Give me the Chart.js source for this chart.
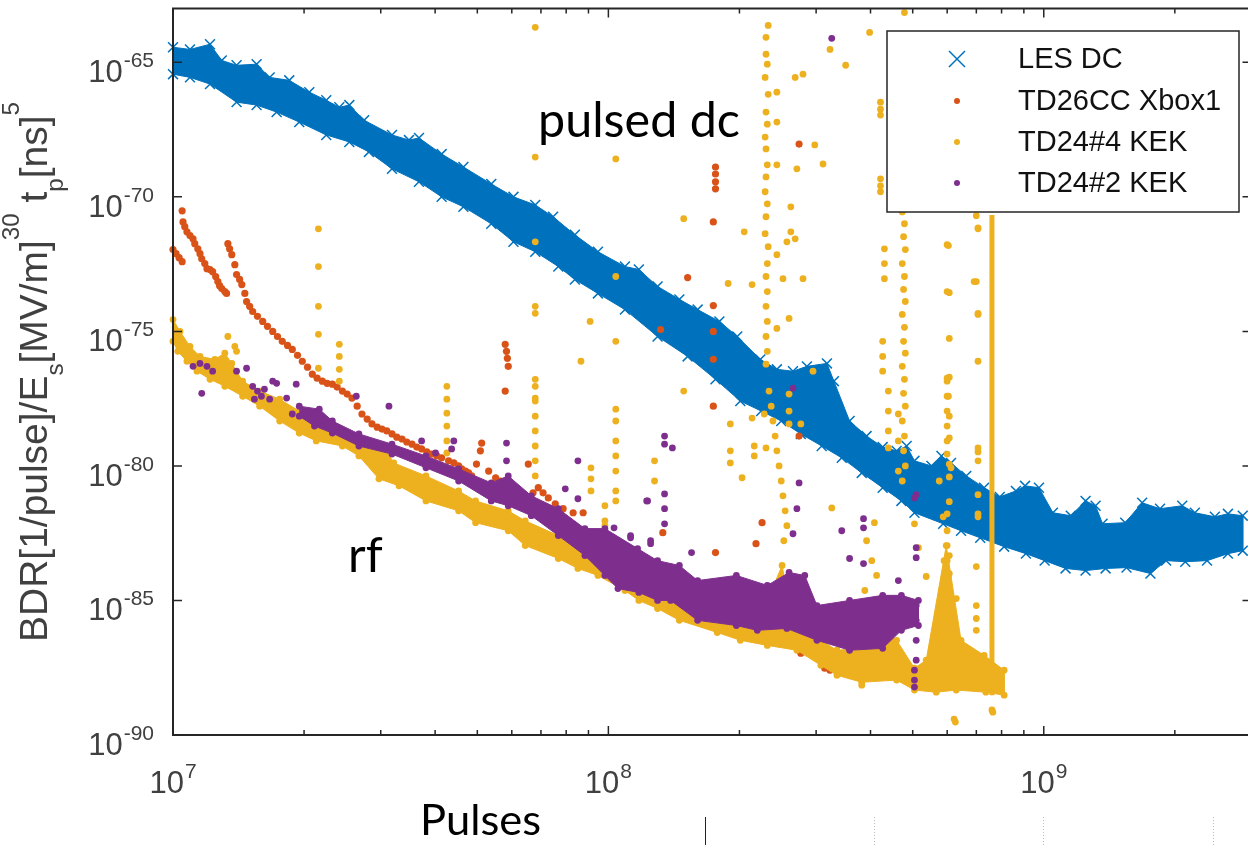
<!DOCTYPE html>
<html>
<head>
<meta charset="utf-8">
<script src="https://cdn.jsdelivr.net/npm/chart.js"></script>
<style>
    html, body { margin: 0; padding: 0; background: #fff; width: 1248px; height: 845px; overflow: hidden; }
    #wrap { width: 1260px; height: 845px; }
</style>
</head>
<body>
<div id="wrap"><canvas id="myChart" width="1260" height="845"></canvas></div>
<script>
// every pair is [log10(pulses), log10(BDR)]

// LES DC: dense band, upper edge left->right, lower edge right->left
var lesDcUpper = [[7.000,-64.44],[7.039,-64.52],[7.085,-64.33],[7.112,-64.93],[7.146,-65.11],[7.192,-65.07],[7.222,-65.56],[7.267,-65.67],[7.313,-66.11],[7.352,-66.41],[7.382,-66.67],[7.405,-66.59],[7.439,-67.15],[7.503,-67.70],[7.542,-67.89],[7.565,-67.81],[7.617,-68.41],[7.667,-68.89],[7.731,-69.52],[7.782,-70.00],[7.832,-70.30],[7.873,-70.74],[7.923,-71.41],[7.976,-72.04],[8.038,-72.59],[8.070,-72.70],[8.113,-73.33],[8.163,-73.81],[8.205,-74.19],[8.255,-74.63],[8.296,-75.19],[8.349,-76.04],[8.387,-76.41],[8.424,-76.48],[8.456,-76.30],[8.502,-76.19],[8.518,-76.85],[8.554,-78.33],[8.593,-78.89],[8.630,-79.30],[8.662,-79.44],[8.685,-79.26],[8.703,-79.81],[8.742,-80.00],[8.765,-79.63],[8.787,-79.89],[8.822,-80.37],[8.863,-80.81],[8.899,-81.15],[8.936,-80.93],[8.957,-80.74],[8.989,-80.81],[9.021,-81.74],[9.062,-81.85],[9.096,-81.30],[9.119,-81.48],[9.135,-82.15],[9.187,-82.11],[9.226,-81.37],[9.267,-81.59],[9.318,-81.48],[9.347,-81.74],[9.393,-81.89],[9.423,-81.78],[9.457,-81.85]];
var lesDcLower = [[9.457,-83.15],[9.423,-83.26],[9.375,-83.52],[9.325,-83.56],[9.281,-83.52],[9.245,-84.00],[9.190,-83.78],[9.142,-83.81],[9.096,-83.89],[9.050,-83.81],[9.002,-83.52],[8.959,-83.26],[8.909,-83.00],[8.854,-82.67],[8.810,-82.41],[8.769,-82.15],[8.703,-81.74],[8.673,-81.30],[8.630,-80.81],[8.582,-80.26],[8.536,-79.70],[8.490,-79.26],[8.442,-78.81],[8.397,-78.33],[8.351,-77.96],[8.303,-77.59],[8.246,-76.78],[8.182,-75.93],[8.113,-75.19],[8.038,-74.19],[7.976,-73.59],[7.923,-73.07],[7.885,-72.59],[7.832,-72.04],[7.782,-71.67],[7.731,-71.00],[7.667,-70.37],[7.617,-70.00],[7.565,-69.44],[7.503,-68.96],[7.450,-68.33],[7.405,-67.96],[7.352,-67.70],[7.290,-67.22],[7.238,-66.85],[7.192,-66.59],[7.146,-66.48],[7.085,-65.81],[7.039,-65.56],[7.000,-65.44]];

// TD26CC Xbox1
var xbox1Points = [[7.000,-71.96],[7.007,-72.11],[7.014,-72.26],[7.021,-72.41],
    [7.021,-70.52],[7.023,-70.93],[7.027,-71.11],[7.032,-71.30],[7.039,-71.44],[7.046,-71.56],[7.050,-71.74],[7.057,-71.93],[7.062,-72.11],[7.066,-72.30],[7.073,-72.48],[7.078,-72.67],[7.085,-72.70],[7.091,-72.78],[7.098,-72.96],[7.103,-73.15],[7.107,-73.30],[7.112,-73.41],[7.119,-73.52],[7.123,-73.59],
    [7.126,-71.74],[7.130,-71.93],[7.135,-72.15],[7.142,-72.52],[7.146,-72.89],[7.153,-73.07],[7.158,-73.26],[7.165,-73.59],[7.169,-73.89],[7.176,-74.07],[7.183,-74.26],[7.194,-74.44],[7.206,-74.63],[7.217,-74.81],[7.229,-75.00],[7.240,-75.19],[7.251,-75.37],[7.263,-75.52],[7.274,-75.67],[7.286,-75.89],[7.297,-76.11],[7.309,-76.33],[7.320,-76.59],[7.331,-76.74],[7.343,-76.85],[7.354,-76.93],[7.366,-76.96],[7.377,-77.07],[7.389,-77.22],[7.400,-77.33],[7.411,-77.48],[7.423,-77.78],[7.434,-78.07],[7.446,-78.26],[7.457,-78.44],[7.469,-78.56],[7.480,-78.63],[7.491,-78.70],[7.503,-78.81],[7.514,-78.93],[7.526,-79.00],[7.537,-79.11],[7.549,-79.19],[7.560,-79.30],[7.571,-79.37],[7.583,-79.48],[7.594,-79.56],[7.606,-79.63],[7.617,-79.70],[7.633,-79.81],[7.645,-79.89],[7.656,-80.00],[7.663,-80.11],[7.672,-80.19],[7.679,-80.26],[7.686,-80.37],[7.697,-79.93],[7.706,-79.44],[7.709,-79.15],[7.725,-80.19],[7.741,-80.44],[7.752,-80.56],[7.763,-80.67],[7.775,-81.04],[7.786,-80.85],[7.793,-80.93],[7.805,-81.07],[7.816,-81.19],[7.827,-81.00],[7.839,-80.81],[7.850,-81.00],[7.862,-81.19],[7.878,-81.41],[7.896,-81.59],[7.919,-81.74],[7.942,-81.74],[7.976,-82.78],[7.816,-79.93],
    [7.763,-75.48],[7.766,-75.74],[7.768,-76.00],[7.770,-76.30],[7.763,-77.22],
    [8.246,-68.89],[8.246,-69.15],[8.246,-69.44],[8.246,-69.70],[8.241,-70.93],[8.438,-68.04],[8.182,-73.00],[8.241,-74.04],[8.241,-75.00],[8.120,-74.93],[8.241,-76.04],[8.241,-77.78],[8.125,-82.48],[8.353,-82.11],[8.339,-82.89],[8.246,-83.22],[8.143,-84.26],[8.349,-84.89],[8.349,-85.37],[8.438,-78.89],[8.442,-86.96],[8.285,-85.37],[8.493,-87.22],[8.502,-87.41],[8.509,-87.59],[8.497,-87.52]];

// TD24#4 KEK: dense band plus scattered spikes
var kek4BandUpper = [[7.000,-74.56],[7.016,-75.00],[7.039,-75.56],[7.062,-75.93],[7.096,-76.04],[7.119,-75.81],[7.135,-76.19],[7.160,-76.85],[7.199,-77.22],[7.245,-77.52],[7.290,-77.96],[7.329,-78.52],[7.389,-78.70],[7.427,-79.07],[7.466,-79.33],[7.485,-79.30],[7.507,-79.89],[7.581,-80.37],[7.656,-80.93],[7.695,-81.30],[7.770,-81.67],[7.809,-82.04],[7.885,-82.59],[7.923,-82.96],[7.976,-83.33],[7.992,-82.22],[8.010,-83.52],[8.070,-84.07],[8.163,-85.00],[8.205,-85.19],[8.303,-85.56],[8.365,-85.00],[8.399,-83.70],[8.422,-85.74],[8.488,-86.48],[8.525,-86.85],[8.582,-86.78],[8.630,-86.11],[8.662,-86.48],[8.703,-87.52],[8.730,-87.22],[8.776,-82.96],[8.810,-86.48],[8.863,-87.04],[8.909,-87.59]];
var kek4BandLower = [[8.909,-88.52],[8.867,-88.41],[8.799,-88.33],[8.753,-88.41],[8.703,-88.33],[8.662,-87.96],[8.582,-88.04],[8.525,-87.78],[8.488,-87.41],[8.433,-86.85],[8.365,-86.67],[8.303,-86.48],[8.250,-86.19],[8.163,-85.74],[8.113,-85.30],[8.070,-85.00],[8.038,-84.63],[7.976,-84.07],[7.930,-83.81],[7.885,-83.44],[7.809,-82.96],[7.770,-82.41],[7.695,-82.11],[7.656,-81.67],[7.581,-81.30],[7.519,-80.74],[7.473,-80.48],[7.427,-79.63],[7.389,-79.26],[7.329,-79.07],[7.290,-78.78],[7.245,-78.33],[7.199,-77.78],[7.160,-77.41],[7.119,-77.04],[7.085,-76.78],[7.055,-76.48],[7.032,-76.11],[7.011,-75.74],[7.000,-75.37]];
var kek4Points = [[7.334,-71.19],[7.334,-72.59],[7.334,-74.07],[7.334,-75.11],[7.334,-76.37],[7.382,-75.48],[7.382,-75.93],[7.382,-76.41],[7.382,-76.85],[7.142,-75.56],[7.126,-75.19],[7.146,-75.74],
    [7.629,-77.04],[7.629,-77.52],[7.629,-78.04],[7.629,-78.52],[7.629,-79.07],[7.629,-79.52],
    [7.832,-63.70],[7.832,-68.52],[7.832,-71.67],[7.832,-74.07],[7.832,-74.33],[7.832,-76.78],[7.832,-77.04],[7.832,-77.48],[7.832,-77.59],[7.832,-78.15],[7.832,-78.70],[7.832,-79.26],[7.832,-79.81],[7.832,-80.37],
    [8.017,-68.59],[8.017,-72.96],[8.017,-75.37],[7.958,-74.63],[7.937,-76.11],[8.017,-77.89],[8.017,-78.33],[8.017,-79.07],[8.017,-79.63],[8.017,-80.19],[8.017,-80.93],[8.017,-81.30],[7.960,-80.07],[7.960,-80.48],[7.960,-80.93],[8.106,-79.81],[8.106,-80.56],[7.992,-81.48],[7.992,-82.04],[7.992,-82.78],
    [8.173,-70.81],[8.312,-71.30],[8.387,-66.11],[8.429,-65.56],[8.447,-65.44],[8.387,-67.22],[8.387,-68.81],[8.433,-68.96],[8.474,-68.07],[8.493,-68.78],[8.419,-70.37],[8.419,-71.30],[8.410,-71.67],[8.429,-71.56],[8.447,-73.04],[8.401,-73.04],[8.387,-72.15],[8.415,-74.52],[8.387,-74.89],[8.330,-73.26],[8.275,-73.22],[8.470,-76.48],[8.600,-63.89],[8.509,-64.52],[8.545,-65.11],[8.680,-63.15],
    [8.625,-66.48],[8.625,-66.74],[8.625,-66.96],[8.625,-69.33],[8.625,-69.59],[8.625,-69.81],[8.634,-71.93],[8.634,-72.48],[8.634,-73.04],[8.630,-75.37],[8.630,-75.93],[8.630,-76.48],
    [8.778,-71.78],[8.778,-73.52],[8.783,-75.26],[8.778,-76.74],[8.845,-73.15],[8.849,-71.19],[8.849,-74.37],[8.849,-76.11],
    [8.367,-63.63],[8.362,-64.07],[8.362,-64.70],[8.365,-65.07],[8.360,-65.56],[8.367,-66.19],[8.362,-66.85],[8.365,-67.30],[8.360,-67.78],[8.362,-68.22],[8.365,-68.81],[8.362,-69.26],[8.360,-69.81],[8.365,-70.26],[8.362,-70.74],[8.360,-71.37],[8.367,-71.85],[8.365,-72.48],[8.362,-72.96],[8.365,-73.52],[8.362,-74.07],[8.365,-74.63],[8.362,-75.19],[8.365,-75.74],[8.362,-76.22],[8.369,-77.22],[8.374,-77.78],[8.378,-78.33],[8.383,-78.89],[8.387,-79.44],[8.392,-80.00],[8.397,-80.56],[8.401,-81.11],[8.406,-81.67],[8.410,-82.22],[8.403,-82.78],[8.415,-77.33],[8.415,-77.96],[8.415,-78.44],[8.442,-78.44],[8.358,-78.07],[8.362,-79.33],[8.335,-79.26],[8.335,-79.63],[8.330,-78.22],[8.280,-78.44],[8.280,-79.44],[8.280,-79.89],[8.307,-80.44],[8.173,-77.22],
    [8.675,-70.56],[8.680,-71.00],[8.678,-71.48],[8.682,-71.96],[8.675,-72.48],[8.680,-72.96],[8.678,-73.44],[8.682,-73.89],[8.675,-74.37],[8.680,-74.85],[8.678,-75.37],[8.682,-75.81],[8.675,-76.30],[8.680,-76.78],[8.678,-77.30],[8.682,-77.78],[8.675,-78.33],[8.680,-78.89],[8.678,-79.44],[8.682,-80.00],[8.675,-80.56],[8.666,-78.07],[8.666,-79.07],[8.666,-80.19],[8.643,-77.22],[8.643,-77.96],[8.643,-78.70],[8.643,-79.33],
    [8.513,-81.56],[8.611,-82.11],[8.703,-82.15],[8.712,-83.04],[8.778,-76.85],[8.778,-77.41],[8.778,-77.96],[8.778,-78.52],[8.778,-79.07],[8.778,-79.56],[8.787,-80.07],[8.778,-81.78],[8.778,-82.41],[8.778,-82.96],[8.778,-83.52],[8.778,-84.26],[8.849,-79.33],[8.849,-79.81],[8.849,-81.78],[8.881,-89.07],[8.797,-89.52],[8.582,-88.15],
    [8.845,-70.70],[8.849,-71.15],[8.781,-71.81],[8.840,-73.15],[8.783,-73.56],[8.849,-74.33],[8.783,-76.70],[8.781,-77.41],[8.783,-78.15],[8.783,-78.96],[8.849,-79.48],[8.783,-79.93],[8.783,-80.41],[8.760,-80.56],[8.849,-81.07],[8.849,-81.89],[8.783,-81.33],[8.769,-81.89],[8.845,-83.74],[8.730,-84.11],[8.783,-83.33],[8.783,-84.00],[8.799,-84.93],[8.845,-85.19],[8.845,-85.67],[8.845,-86.11],[8.794,-89.41],[8.883,-89.15],
    [8.771,-83.52],[8.781,-84.07],[8.765,-84.63],[8.787,-85.00],[8.758,-85.56],[8.794,-85.74],[8.753,-86.30],[8.803,-86.48],[8.742,-86.85],[8.810,-87.04],[8.730,-87.41],[8.822,-87.22],[8.719,-87.78],[8.833,-87.59],[8.856,-87.41],[8.867,-87.78],[8.890,-87.96],[8.902,-88.33],[8.879,-88.33],[8.845,-88.15],[8.799,-87.96],[8.765,-88.04],[8.742,-88.26],[8.707,-87.96],
    [8.593,-82.78],[8.605,-83.52],[8.616,-84.07],[8.589,-84.63],[8.627,-85.00]];
// the unbroken vertical run of TD24#4 points near 7.6e8 pulses
var kek4Streak = [[8.881,-70.67],[8.881,-88.52]];

// TD24#2 KEK: dense band plus scattered points
var kek2BandUpper = [[7.290,-77.78],[7.336,-77.89],[7.366,-78.33],[7.427,-78.81],[7.503,-79.19],[7.581,-79.63],[7.656,-80.11],[7.731,-80.63],[7.770,-80.37],[7.823,-81.11],[7.885,-81.59],[7.946,-82.33],[7.992,-82.33],[8.067,-83.07],[8.113,-83.52],[8.163,-83.70],[8.205,-84.26],[8.294,-84.07],[8.365,-84.44],[8.415,-83.96],[8.451,-84.07],[8.479,-85.19],[8.554,-85.00],[8.630,-84.81],[8.673,-84.81],[8.712,-85.00]];
var kek2BandLower = [[8.712,-85.93],[8.673,-86.11],[8.630,-86.78],[8.554,-86.85],[8.479,-86.48],[8.410,-86.04],[8.342,-86.11],[8.294,-85.93],[8.205,-85.74],[8.143,-85.00],[8.113,-85.00],[8.070,-84.70],[8.022,-84.56],[7.992,-84.07],[7.946,-83.33],[7.885,-82.59],[7.823,-81.85],[7.770,-81.48],[7.731,-81.30],[7.656,-80.56],[7.581,-80.07],[7.503,-79.56],[7.427,-79.26],[7.366,-78.78],[7.325,-78.52],[7.290,-78.15]];
var kek2Points = [[7.046,-76.30],[7.062,-76.19],[7.078,-76.30],[7.091,-76.48],[7.066,-77.30],[7.146,-76.48],[7.169,-76.37],[7.183,-77.04],[7.194,-77.22],[7.203,-77.41],[7.210,-77.15],[7.222,-77.52],[7.187,-77.52],[7.229,-76.85],[7.238,-76.93],[7.261,-77.48],[7.274,-78.07],[7.283,-76.96],[7.421,-77.41],[7.496,-77.78],[7.571,-79.07],[7.603,-79.52],[7.645,-79.07],[7.640,-79.37],[7.766,-79.15],[7.766,-79.81],[7.901,-80.85],[7.930,-79.81],[7.930,-81.22],[7.907,-82.04],[8.051,-82.59],[8.090,-81.30],[8.097,-82.78],[8.129,-78.89],[8.129,-79.19],[8.147,-79.33],[8.088,-81.30],[8.129,-81.04],[8.129,-81.59],[8.129,-82.15],[8.424,-77.11],[8.438,-80.63],[8.433,-81.59],[8.424,-82.52],[8.536,-82.41],[8.586,-81.96],[8.586,-82.30],[8.586,-83.63],[8.554,-83.44],[8.666,-84.26],[8.703,-81.19],[8.707,-81.07],[8.707,-83.04],[8.707,-83.41],[8.707,-85.19],[8.707,-85.74],[8.707,-86.48],[8.707,-87.22],[8.703,-87.59],[8.703,-87.96],[8.703,-88.22],[8.513,-64.11],[8.191,-83.22],[8.013,-82.30],[8.051,-82.67],[8.097,-82.89]];

var seriesNames = ['LES DC', 'TD26CC Xbox1', 'TD24#4 KEK', 'TD24#2 KEK'];
var seriesColors = ['#0072BD', '#D95319', '#EDB120', '#7E2F8E'];

var xTickExps = [7, 8, 9];
var xMinorSteps = [2, 3, 4, 5, 6, 7, 8, 9];
var yTickExps = [-90, -85, -80, -75, -70, -65];
var yTitleParts = [['BDR[1/pulse]/E', 0], ['s', -1], ['[MV/m]', 0], ['30', 1], [' t', 0], ['p', -1], ['[ns]', 0], ['5', 1]];


function toPoints(list) {
    return list.map(function (p) {
        return { x: Math.pow(10, p[0]), y: Math.pow(10, p[1]) };
    });
}

var tickFont = '"Liberation Sans", Arial, sans-serif';
var noteFont = 'Lato, "Open Sans", sans-serif';

function drawPower(ctx, exp, x, baseline, align) {
    ctx.font = '31px ' + tickFont;
    var wBase = ctx.measureText('10').width;
    ctx.font = '21px ' + tickFont;
    var wExp = ctx.measureText(String(exp)).width;
    var left = align === 'right' ? x - wBase - wExp - 1 : x - (wBase + wExp + 1) / 2;
    ctx.font = '31px ' + tickFont;
    ctx.fillText('10', left, baseline);
    ctx.font = '21px ' + tickFont;
    ctx.fillText(String(exp), left + wBase + 1, baseline - 15);
}

function fitFont(ctx, text, width, family) {
    ctx.font = '40px ' + family;
    return 40 * width / ctx.measureText(text).width;
}

var decorPlugin = {
    id: 'matlabDecor',
    afterDraw: function (chart) {
        var ctx = chart.ctx;
        var a = chart.chartArea;
        var xs = chart.scales.x;
        var ys = chart.scales.y;
        ctx.save();

        // axes box and inward ticks
        ctx.strokeStyle = '#262626';
        ctx.lineWidth = 2;
        ctx.strokeRect(a.left, a.top, a.right - a.left, a.bottom - a.top);
        ctx.lineWidth = 1.5;
        ctx.beginPath();
        xTickExps.forEach(function (e) {
            var px = xs.getPixelForValue(Math.pow(10, e));
            ctx.moveTo(px, a.bottom); ctx.lineTo(px, a.bottom - 9);
            ctx.moveTo(px, a.top); ctx.lineTo(px, a.top + 9);
            xMinorSteps.forEach(function (m) {
                var v = m * Math.pow(10, e);
                if (v >= xs.max) return;
                var mx = xs.getPixelForValue(v);
                ctx.moveTo(mx, a.bottom); ctx.lineTo(mx, a.bottom - 5);
                ctx.moveTo(mx, a.top); ctx.lineTo(mx, a.top + 5);
            });
        });
        yTickExps.forEach(function (e) {
            var py = ys.getPixelForValue(Math.pow(10, e));
            ctx.moveTo(a.left, py); ctx.lineTo(a.left + 9, py);
            ctx.moveTo(a.right, py); ctx.lineTo(a.right - 9, py);
        });
        ctx.stroke();

        // tick labels
        ctx.fillStyle = '#404040';
        ctx.textAlign = 'left';
        ctx.textBaseline = 'alphabetic';
        yTickExps.forEach(function (e) {
            var py = ys.getPixelForValue(Math.pow(10, e));
            drawPower(ctx, e, a.left - 19, py + 20, 'right');
        });
        xTickExps.forEach(function (e) {
            var px = xs.getPixelForValue(Math.pow(10, e));
            drawPower(ctx, e, px, a.bottom + 58, 'center');
        });

        // y axis title, rotated, with sub- and superscripts
        var size = 36;
        var widthAt = function (f) {
            var w = 0;
            yTitleParts.forEach(function (p) {
                ctx.font = (p[1] === 0 ? f : f * 0.62) + 'px ' + tickFont;
                w += ctx.measureText(p[0]).width;
            });
            return w;
        };
        size = size * 540 / widthAt(size);
        var total = widthAt(size);
        ctx.save();
        ctx.translate(47, 372);
        ctx.rotate(-Math.PI / 2);
        var tx = -total / 2;
        yTitleParts.forEach(function (p) {
            ctx.font = (p[1] === 0 ? size : size * 0.62) + 'px ' + tickFont;
            var dy = p[1] === 1 ? -size * 0.72 : (p[1] === -1 ? size * 0.42 : 0);
            ctx.fillText(p[0], tx, dy);
            tx += ctx.measureText(p[0]).width;
        });
        ctx.restore();

        // slide annotations
        ctx.fillStyle = '#000';
        var noteSize = fitFont(ctx, 'pulsed dc', 202, noteFont);
        ctx.font = noteSize + 'px ' + noteFont;
        ctx.fillText('pulsed dc', 538, 137);
        ctx.fillText('rf', 348, 572);
        ctx.font = fitFont(ctx, 'Pulses', 121, noteFont) + 'px ' + noteFont;
        ctx.fillText('Pulses', 420, 835);

        // stray slide marks under the axis
        ctx.strokeStyle = '#222';
        ctx.lineWidth = 1;
        ctx.beginPath();
        ctx.moveTo(705.5, 817); ctx.lineTo(705.5, 845);
        ctx.stroke();
        ctx.strokeStyle = '#bbb';
        ctx.setLineDash([1, 2]);
        ctx.beginPath();
        [874.5, 1043.5, 1213.5].forEach(function (x) { ctx.moveTo(x, 817); ctx.lineTo(x, 845); });
        ctx.stroke();
        ctx.setLineDash([]);

        // legend
        var lx = 887, ly = 31, lw = 352, lh = 181;
        ctx.fillStyle = '#fff';
        ctx.fillRect(lx, ly, lw, lh);
        ctx.strokeStyle = '#262626';
        ctx.lineWidth = 1.5;
        ctx.strokeRect(lx, ly, lw, lh);
        var rows = [59, 101, 142, 183];
        ctx.font = '29px ' + tickFont;
        ctx.textBaseline = 'middle';
        seriesNames.forEach(function (name, i) {
            var cy = rows[i];
            if (i === 0) {
                ctx.strokeStyle = seriesColors[0];
                ctx.lineWidth = 1.5;
                ctx.beginPath();
                ctx.moveTo(949, cy - 8); ctx.lineTo(965, cy + 8);
                ctx.moveTo(965, cy - 8); ctx.lineTo(949, cy + 8);
                ctx.stroke();
            } else {
                ctx.fillStyle = seriesColors[i];
                ctx.beginPath();
                ctx.arc(957, cy, 3, 0, Math.PI * 2);
                ctx.fill();
            }
            ctx.fillStyle = '#111';
            ctx.fillText(name, 1018, cy + 1);
        });
        ctx.restore();
    }
};

var ctx = document.getElementById('myChart');
var myChart = new Chart(ctx, {
    type: 'scatter',
    data: {
        datasets: [{
            label: seriesNames[3],
            data: toPoints(kek2Points),
            backgroundColor: seriesColors[3],
            pointRadius: 3.4,
            pointBorderWidth: 0,
            clip: false,
            order: 1
        }, {
            label: seriesNames[3] + ' band',
            data: toPoints(kek2BandUpper.concat(kek2BandLower)),
            showLine: true,
            fill: 'shape',
            borderColor: seriesColors[3],
            backgroundColor: seriesColors[3],
            borderWidth: 1,
            pointBackgroundColor: seriesColors[3],
            pointRadius: 3.4,
            pointBorderWidth: 0,
            clip: false,
            order: 1
        }, {
            label: seriesNames[2],
            data: toPoints(kek4Points),
            backgroundColor: seriesColors[2],
            pointRadius: 3.4,
            pointBorderWidth: 0,
            clip: false,
            order: 2
        }, {
            label: seriesNames[2] + ' streak',
            data: toPoints(kek4Streak),
            showLine: true,
            borderColor: seriesColors[2],
            borderWidth: 5,
            pointRadius: 0,
            clip: false,
            order: 2
        }, {
            label: seriesNames[2] + ' band',
            data: toPoints(kek4BandUpper.concat(kek4BandLower)),
            showLine: true,
            fill: 'shape',
            borderColor: seriesColors[2],
            backgroundColor: seriesColors[2],
            borderWidth: 1,
            pointBackgroundColor: seriesColors[2],
            pointRadius: 3.4,
            pointBorderWidth: 0,
            clip: false,
            order: 2
        }, {
            label: seriesNames[1],
            data: toPoints(xbox1Points),
            backgroundColor: seriesColors[1],
            pointRadius: 3.6,
            pointBorderWidth: 0,
            clip: false,
            order: 3
        }, {
            label: seriesNames[0],
            data: toPoints(lesDcUpper.concat(lesDcLower)),
            showLine: true,
            fill: 'shape',
            borderColor: seriesColors[0],
            backgroundColor: seriesColors[0],
            borderWidth: 1,
            pointStyle: 'crossRot',
            pointRadius: 7,
            pointBorderWidth: 1.5,
            pointBorderColor: seriesColors[0],
            clip: false,
            order: 4
        }]
    },
    options: {
        responsive: false,
        animation: false,
        layout: { padding: { left: 173, top: 6, right: 3, bottom: 110 } },
        plugins: {
            legend: { display: false },
            tooltip: { enabled: false }
        },
        scales: {
            x: { type: 'logarithmic', min: 1e7, max: 3e9, display: false },
            y: { type: 'logarithmic', min: 1e-90, max: 1e-63, display: false }
        }
    },
    plugins: [decorPlugin]
});
</script>
</body>
</html>
